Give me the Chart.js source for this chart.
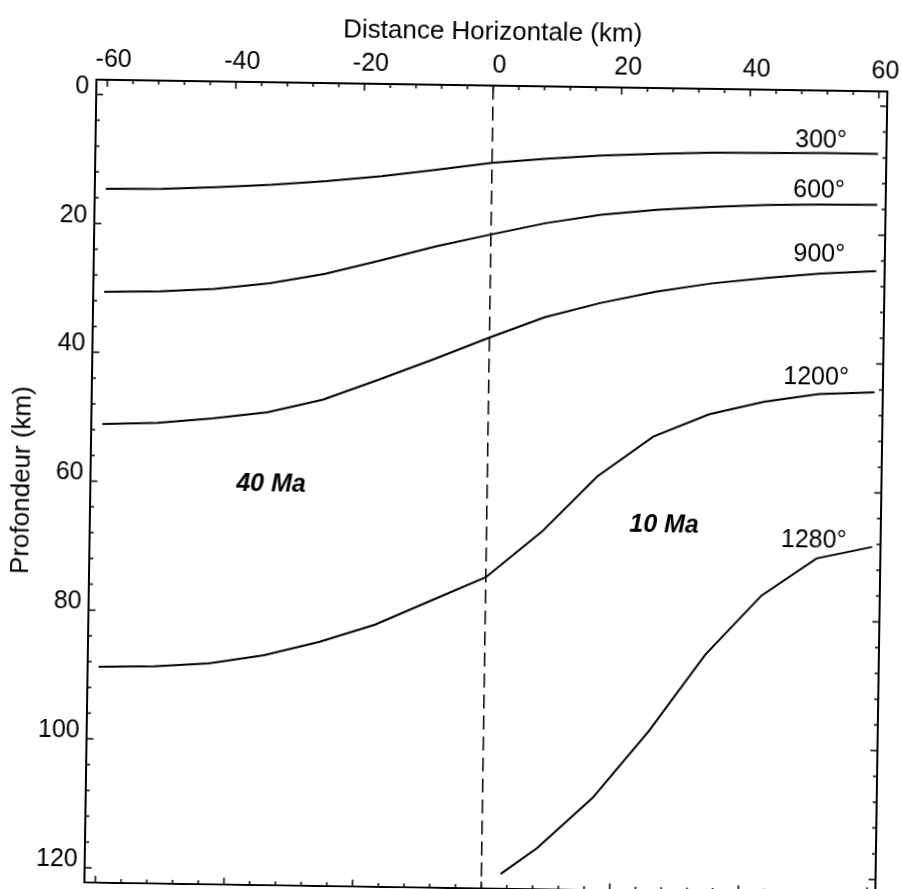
<!DOCTYPE html>
<html>
<head>
<meta charset="utf-8">
<title>Isothermes</title>
<script src="https://cdn.jsdelivr.net/npm/chart.js@4.4.1/dist/chart.umd.min.js"></script>
<style>
    html, body { margin: 0; padding: 0; background: #ffffff; overflow: hidden; }
    /* la figure d'origine est un scan legerement penche */
    canvas { display: block; transform: rotate(0.86deg); }
</style>
</head>
<body>
<canvas id="isothermesChart" width="901" height="889"></canvas>
<script>
// distance horizontale (km) - meme grille pour toutes les isothermes
var distances = [-60, -51.4, -42.9, -34.3, -25.7, -17.1, -8.6, 0, 8.6, 17.1, 25.7, 34.3, 42.9, 51.4, 60];

// profondeur (km) des isothermes
var iso300 = [14.6, 14.5, 14.1, 13.6, 12.9, 12.0, 10.9, 9.7, 8.9, 8.3, 7.9, 7.6, 7.5, 7.4, 7.4];
var iso600 = [30.6, 30.4, 29.9, 28.9, 27.3, 25.1, 22.8, 20.8, 18.9, 17.5, 16.6, 16.0, 15.6, 15.4, 15.3];
var iso900 = [51.1, 50.8, 50.0, 48.9, 46.8, 43.6, 40.3, 36.8, 33.5, 31.2, 29.3, 27.9, 26.9, 26.1, 25.6];
var iso1200 = [88.8, 88.6, 88.0, 86.6, 84.4, 81.6, 77.8, 74.0, 66.8, 58.1, 51.8, 48.2, 46.1, 44.8, 44.4];

// la 1280 n'existe que du cote jeune
var distances1280 = [3.0, 8.6, 17.1, 25.7, 34.3, 42.9, 51.4, 60];
var iso1280 = [120.0, 115.9, 108.0, 97.5, 85.5, 76.2, 70.3, 68.4];

// limite des deux lithospheres
var limiteX = [0, 0];

var isoLabels = ['300°', '600°', '900°', '1200°', '1280°'];
var isoLabelX = [51.1, 50.9, 51.1, 50.9, 50.9];
var isoLabelY = [5.5, 13.2, 23.2, 42.3, 67.5];

var ageLabels = ['40 Ma', '10 Ma'];
var ageLabelX = [-33.6, 27.6];
var ageLabelY = [60.1, 65.5];

var xMin = -61.7, xMax = 61.3;
var yMin = -2.3, yMax = 122.3;
var xTicks = [-60, -40, -20, 0, 20, 40, 60];
var yTicks = [0, 20, 40, 60, 80, 100, 120];
var minorStep = 4;

function toPoints(xs, ys) {
    return xs.map(function (x, i) { return { x: x, y: ys[i] }; });
}

function courbe(label, xs, ys) {
    return {
        label: label,
        data: toPoints(xs, ys),
        showLine: true,
        borderColor: '#000',
        borderWidth: 2,
        pointRadius: 0,
        tension: 0
    };
}

Chart.defaults.font.family = '"Liberation Sans", Arial, Helvetica, sans-serif';
Chart.defaults.color = '#000';

// cadre + petites graduations vers l'interieur + textes
var cadrePlugin = {
    id: 'cadre',
    afterDatasetsDraw: function (chart) {
        var ctx = chart.ctx;
        var area = chart.chartArea;
        var sx = chart.scales.x;
        var sy = chart.scales.y;
        ctx.save();
        ctx.strokeStyle = '#000';
        ctx.lineWidth = 2;
        ctx.strokeRect(area.left, area.top, area.right - area.left, area.bottom - area.top);

        ctx.lineWidth = 1.5;
        ctx.beginPath();
        for (var v = -60; v <= 60; v += minorStep) {
            var len = v % 20 === 0 ? 7 : 4;
            var px = sx.getPixelForValue(v);
            ctx.moveTo(px, area.top);
            ctx.lineTo(px, area.top + len);
            ctx.moveTo(px, area.bottom);
            ctx.lineTo(px, area.bottom - len);
        }
        for (var d = 0; d <= 120; d += minorStep) {
            var l = d % 20 === 0 ? 7 : 4;
            var py = sy.getPixelForValue(d);
            ctx.moveTo(area.left, py);
            ctx.lineTo(area.left + l, py);
            ctx.moveTo(area.right, py);
            ctx.lineTo(area.right - l, py);
        }
        ctx.stroke();

        ctx.fillStyle = '#000';
        ctx.textAlign = 'center';
        ctx.textBaseline = 'middle';
        ctx.font = '25px "Liberation Sans", Arial, sans-serif';
        isoLabels.forEach(function (t, i) {
            ctx.fillText(t, sx.getPixelForValue(isoLabelX[i]), sy.getPixelForValue(isoLabelY[i]));
        });
        ctx.font = 'italic bold 25px "Liberation Sans", Arial, sans-serif';
        ageLabels.forEach(function (t, i) {
            ctx.fillText(t, sx.getPixelForValue(ageLabelX[i]), sy.getPixelForValue(ageLabelY[i]));
        });
        ctx.restore();
    }
};

var ctxIso = document.getElementById('isothermesChart').getContext('2d');
var isothermesChart = new Chart(ctxIso, {
    type: 'scatter',
    plugins: [cadrePlugin],
    data: {
        datasets: [
            courbe('300°', distances, iso300),
            courbe('600°', distances, iso600),
            courbe('900°', distances, iso900),
            courbe('1200°', distances, iso1200),
            courbe('1280°', distances1280, iso1280),
            {
                label: 'limite',
                data: toPoints(limiteX, [yMin, yMax]),
                showLine: true,
                borderColor: '#000',
                borderWidth: 1.5,
                borderDash: [14, 7],
                pointRadius: 0
            }
        ]
    },
    options: {
        responsive: false,
        animation: false,
        layout: {
            padding: { left: 0, top: 0, right: 19, bottom: 1 }
        },
        plugins: {
            legend: { display: false },
            tooltip: { enabled: false }
        },
        scales: {
            x: {
                type: 'linear',
                position: 'top',
                min: xMin,
                max: xMax,
                grid: { display: false, drawTicks: false },
                border: { display: false },
                afterBuildTicks: function (scale) {
                    scale.ticks = xTicks.map(function (v) { return { value: v }; });
                },
                afterFit: function (scale) {
                    scale.height = 85;
                    scale.paddingLeft = 0;
                    scale.paddingRight = 0;
                },
                ticks: {
                    padding: 5,
                    labelOffset: 6,
                    maxRotation: 0,
                    font: { size: 25 },
                    callback: function (value) { return String(value); }
                },
                title: {
                    display: true,
                    text: 'Distance Horizontale (km)',
                    font: { size: 26 },
                    padding: { top: 16, bottom: 0 }
                }
            },
            y: {
                type: 'linear',
                reverse: true,
                min: yMin,
                max: yMax,
                grid: { display: false, drawTicks: false },
                border: { display: false },
                afterBuildTicks: function (scale) {
                    scale.ticks = yTicks.map(function (v) { return { value: v }; });
                },
                afterFit: function (scale) {
                    scale.width = 91;
                    scale.paddingTop = 0;
                    scale.paddingBottom = 0;
                },
                ticks: {
                    padding: 7,
                    labelOffset: -8,
                    font: { size: 25 },
                    callback: function (value) { return String(value); }
                },
                title: {
                    display: true,
                    text: 'Profondeur (km)',
                    font: { size: 26 },
                    padding: { top: 7, bottom: 0 }
                }
            }
        }
    }
});
</script>
</body>
</html>
